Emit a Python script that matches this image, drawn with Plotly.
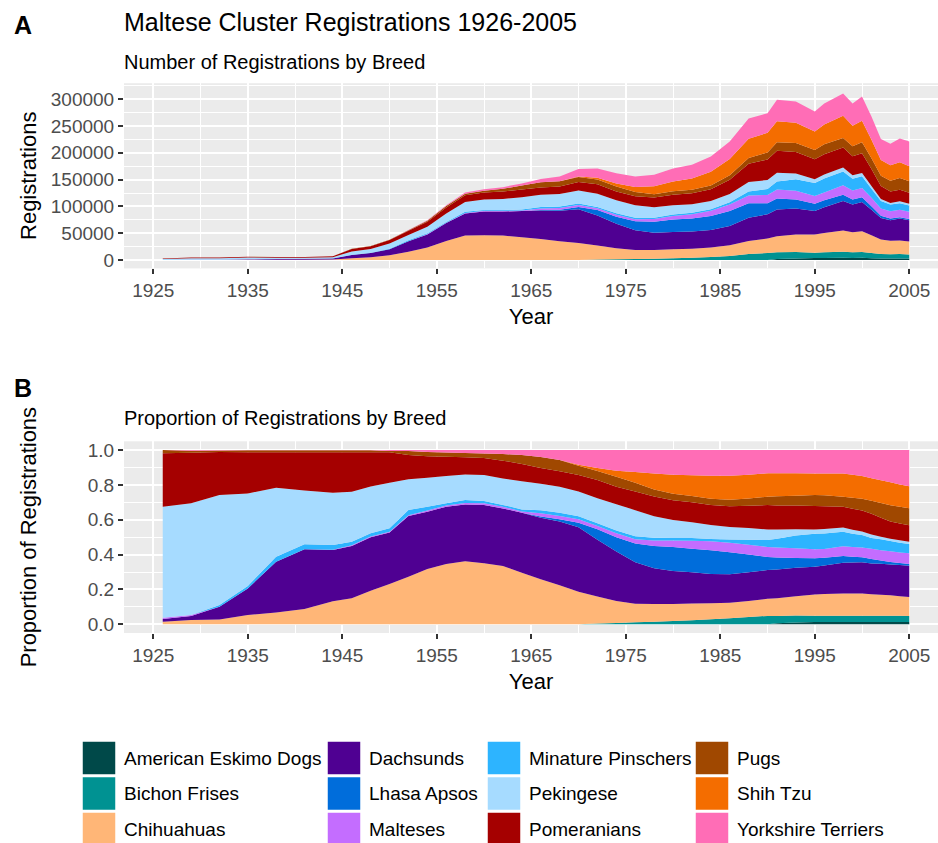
import numpy as np
import plotly.graph_objects as go

# ---------------- data ----------------
years = [1926, 1929, 1932, 1935, 1938, 1941, 1944, 1946, 1948, 1950, 1952, 1954,
         1956, 1958, 1960, 1962, 1964, 1966, 1968, 1970, 1972, 1974, 1976, 1978,
         1980, 1982, 1984, 1986, 1988, 1990, 1991, 1993, 1995, 1996, 1998, 1999,
         2000, 2001, 2002, 2003, 2004, 2005]

# total registrations of the cluster (top of the stacked area, panel A)
total_registrations = [3000, 4500, 4500, 6000, 5500, 5500, 7000, 21000, 26000, 38000, 56000, 74000,
                       102000, 126000, 132000, 136000, 143000, 151000, 156000, 170000, 171000, 162000, 156000, 159000,
                       171000, 178000, 193000, 221000, 264000, 274000, 299000, 296000, 277000, 292000, 311000, 292000,
                       305000, 268000, 226000, 217000, 227000, 221000]

# share of registrations per breed, percent (panel B)
american_eskimo_dogs = [0, 0, 0, 0, 0, 0, 0, 0, 0, 0, 0, 0,
                        0, 0, 0, 0, 0, 0, 0, 0, 0, 0, 0, 0,
                        0, 0, 0, 0, 0, 0, 0.6, 1.0, 1.3, 1.3, 1.3, 1.3,
                        1.3, 1.3, 1.3, 1.3, 1.3, 1.3]
bichon_frises = [0, 0, 0, 0, 0, 0, 0, 0, 0, 0, 0, 0,
                 0, 0, 0, 0, 0, 0, 0, 0, 0.4, 0.8, 1.1, 1.5,
                 1.9, 2.3, 2.9, 3.4, 4.2, 4.8, 4.2, 4.0, 3.6, 3.6, 3.6, 3.6,
                 3.6, 3.6, 3.6, 3.6, 3.6, 3.4]
chihuahuas = [1.5, 2.5, 2.7, 5.3, 6.7, 8.8, 13.2, 14.9, 19.3, 23.1, 27.3, 31.7,
              34.6, 36.1, 35.0, 33.5, 29.6, 25.8, 22.4, 18.7, 15.5, 12.6, 10.7, 10.3,
              9.8, 9.6, 9.2, 9.0, 9.2, 9.8, 10.1, 11.1, 12.2, 12.4, 12.8, 12.8,
              12.8, 12.4, 12.0, 11.7, 11.1, 10.9]
dachsunds = [1.5, 2.3, 7.4, 15.3, 29.2, 34.2, 29.4, 30.0, 30.6, 29.5, 34.8, 32.9,
             32.9, 32.7, 33.5, 33.0, 34.4, 35.4, 36.5, 37.1, 32.5, 28.3, 23.7, 20.7,
             19.1, 18.0, 16.8, 16.3, 16.4, 16.6, 16.6, 16.3, 15.9, 16.4, 17.6, 17.8,
             18.0, 17.8, 17.8, 17.6, 18.0, 18.0]
lhasa_apsos = [0, 0, 0, 0, 0, 0, 0, 0, 0, 0, 0, 0,
               0, 0, 0, 0, 0, 0.6, 1.3, 2.5, 6.1, 8.2, 10.7, 13.0,
               13.8, 13.6, 13.6, 12.6, 10.3, 7.5, 6.9, 5.7, 4.8, 4.4, 3.8, 3.3,
               2.9, 2.5, 1.9, 1.5, 1.1, 1.0]
malteses = [0.8, 0.5, 0, 0, 0, 0, 0.2, 0.5, 0.5, 0.5, 0.5, 0.7,
            0.7, 0.8, 1.0, 1.0, 0.8, 1.9, 1.9, 2.1, 1.9, 2.3, 2.5, 3.1,
            3.8, 4.6, 5.2, 5.5, 5.5, 5.7, 5.7, 5.5, 5.2, 5.0, 5.7, 5.7,
            5.7, 5.9, 5.9, 6.1, 6.1, 6.1]
minature_pinschers = [0, 0, 1.0, 1.4, 2.9, 2.9, 2.7, 2.0, 1.8, 2.0, 3.0, 2.2,
                      1.2, 1.7, 1.2, 1.0, 1.2, 1.7, 1.9, 1.7, 1.5, 1.5, 1.7, 1.7,
                      1.5, 1.5, 1.3, 1.9, 2.9, 4.0, 5.0, 7.3, 8.9, 9.0, 8.2, 7.6,
                      7.1, 6.3, 6.3, 5.9, 5.5, 5.4]
pekingese = [63.7, 64.1, 63.1, 53.1, 39.6, 30.8, 30.0, 28.7, 26.8, 26.1, 17.6, 16.6,
             15.7, 14.7, 15.0, 15.2, 16.1, 15.3, 14.9, 14.2, 14.3, 15.1, 14.9, 12.4,
             10.3, 9.0, 8.0, 7.1, 6.7, 6.1, 5.4, 3.6, 2.5, 2.5, 2.5, 2.2,
             2.0, 2.0, 1.5, 1.3, 1.5, 1.3]
pomeranians = [30.6, 29.1, 24.7, 23.6, 20.3, 22.0, 23.2, 22.6, 19.7, 17.5, 13.9, 12.3,
               11.1, 9.8, 9.7, 10.2, 10.0, 9.0, 8.8, 9.4, 10.5, 10.1, 10.7, 11.5,
               11.5, 11.5, 11.5, 11.9, 12.8, 14.0, 13.8, 13.6, 13.4, 13.0, 11.9, 12.2,
               12.2, 11.9, 10.9, 9.9, 9.6, 9.4]
pugs = [1.9, 1.1, 0.8, 1.1, 1.1, 1.1, 1.1, 1.1, 1.1, 0.7, 2.3, 2.4,
        2.4, 2.5, 2.6, 3.8, 5.1, 6.3, 6.5, 5.4, 5.2, 5.7, 5.0, 4.0,
        3.8, 3.6, 3.6, 3.8, 4.2, 4.8, 5.2, 5.7, 6.3, 6.3, 5.7, 6.3,
        6.7, 7.5, 8.4, 9.2, 9.6, 9.8]
shih_tzu = [0, 0, 0, 0, 0, 0, 0, 0, 0, 0, 0, 0,
            0, 0, 0, 0, 0, 0, 0, 0.6, 1.7, 3.4, 6.1, 9.4,
            10.9, 12.0, 13.2, 13.8, 13.6, 13.4, 13.2, 12.8, 12.4, 12.6, 13.4, 13.2,
            13.2, 13.0, 13.0, 13.2, 12.8, 12.6]
yorkshire_terriers = [0, 0.4, 0.3, 0.2, 0.2, 0.2, 0.2, 0.2, 0.2, 0.6, 0.6, 1.2,
                      1.4, 1.7, 2.0, 2.3, 2.9, 4.0, 5.7, 8.4, 10.3, 11.9, 12.6, 13.6,
                      14.3, 14.5, 14.7, 14.7, 14.2, 13.4, 13.4, 13.4, 13.4, 13.4, 13.4, 14.2,
                      14.9, 16.3, 17.4, 18.5, 19.7, 20.8]

breeds = ["American Eskimo Dogs", "Bichon Frises", "Chihuahuas", "Dachsunds",
          "Lhasa Apsos", "Malteses", "Minature Pinschers", "Pekingese",
          "Pomeranians", "Pugs", "Shih Tzu", "Yorkshire Terriers"]
breed_shares = [american_eskimo_dogs, bichon_frises, chihuahuas, dachsunds,
                lhasa_apsos, malteses, minature_pinschers, pekingese,
                pomeranians, pugs, shih_tzu, yorkshire_terriers]
breed_colors = ["#004949", "#009292", "#FFB677", "#4F0092",
                "#006DDB", "#C46DFF", "#2DB4FF", "#A6DBFF",
                "#A50000", "#A04800", "#F46D00", "#FF6DB6"]

x_tick_labels = [1925, 1935, 1945, 1955, 1965, 1975, 1985, 1995, 2005]
y1_tick_values = [0, 50000, 100000, 150000, 200000, 250000, 300000]
y2_tick_values = [0.0, 0.2, 0.4, 0.6, 0.8, 1.0]

# ---------------- derived series ----------------
share = np.array(breed_shares, dtype=float)
share = share / share.sum(axis=0)                      # proportions per year
counts = share * np.array(total_registrations, float)  # registrations per breed

# ---------------- figure ----------------
W, H = 938, 843
FONT = "Liberation Sans, Arial, Helvetica, sans-serif"


def px_x(x):
    return x / W


def px_y(y):
    return 1 - y / H


fig = go.Figure()
for i, b in enumerate(breeds):
    fig.add_trace(go.Scatter(x=years, y=counts[i], name=b, stackgroup="abs", mode="none",
                             fillcolor=breed_colors[i], showlegend=False,
                             xaxis="x", yaxis="y", hovertemplate=b + ": %{y:.0f}<extra></extra>"))
for i, b in enumerate(breeds):
    fig.add_trace(go.Scatter(x=years, y=share[i], name=b, stackgroup="prop", mode="none",
                             fillcolor=breed_colors[i], showlegend=False,
                             xaxis="x2", yaxis="y2", hovertemplate=b + ": %{y:.3f}<extra></extra>"))

x_left = 124
x_range = [1921.9, 2008.04]
top_dom = [px_y(268.4), px_y(83.2)]
bot_dom = [px_y(633.0), px_y(441.3)]

common_x = dict(
    range=x_range, domain=[px_x(x_left), 1.0],
    tickvals=x_tick_labels, ticktext=[str(v) for v in x_tick_labels],
    ticks="outside", ticklen=5, tickwidth=1.5, tickcolor="#333333",
    tickfont=dict(family=FONT, size=19, color="#4D4D4D"),
    showgrid=True, gridcolor="white", gridwidth=2,
    minor=dict(tickvals=[1930, 1940, 1950, 1960, 1970, 1980, 1990, 2000],
               showgrid=True, gridcolor="white", gridwidth=1, ticks=""),
    zeroline=False, showline=False, fixedrange=True,
    title=dict(text="Year", font=dict(family=FONT, size=22, color="black"), standoff=8),
)
common_y = dict(
    ticks="outside", ticklen=5, tickwidth=1.5, tickcolor="#333333",
    tickfont=dict(family=FONT, size=19, color="#4D4D4D"),
    showgrid=True, gridcolor="white", gridwidth=2,
    zeroline=False, showline=False, fixedrange=True,
)

fig.update_layout(
    width=W, height=H,
    margin=dict(l=0, r=0, t=0, b=0, autoexpand=False),
    paper_bgcolor="white", plot_bgcolor="#EBEBEB",
    font=dict(family=FONT, color="black"),
    showlegend=False,
    xaxis=dict(anchor="y", **common_x),
    xaxis2=dict(anchor="y2", **common_x),
    yaxis=dict(anchor="x", domain=top_dom, range=[-15700, 330000],
               tickvals=y1_tick_values, ticktext=[str(v) for v in y1_tick_values],
               minor=dict(tickvals=[25000, 75000, 125000, 175000, 225000, 275000, 325000],
                          showgrid=True, gridcolor="white", gridwidth=1, ticks=""),
               title=dict(text="Registrations", font=dict(family=FONT, size=22, color="black"), standoff=8),
               **common_y),
    yaxis2=dict(anchor="x2", domain=bot_dom, range=[-0.05, 1.05],
                tickvals=y2_tick_values, ticktext=["%.1f" % v for v in y2_tick_values],
                minor=dict(tickvals=[0.1, 0.3, 0.5, 0.7, 0.9],
                           showgrid=True, gridcolor="white", gridwidth=1, ticks=""),
                title=dict(text="Proportion of Registrations", font=dict(family=FONT, size=22, color="black"), standoff=45),
                **common_y),
)

annotations = [
    dict(text="<b>A</b>", x=px_x(12), y=px_y(25), xanchor="left", yanchor="middle",
         font=dict(family=FONT, size=25, color="black")),
    dict(text="Maltese Cluster Registrations 1926-2005", x=px_x(122), y=px_y(22),
         xanchor="left", yanchor="middle", font=dict(family=FONT, size=25, color="black")),
    dict(text="Number of Registrations by Breed", x=px_x(122), y=px_y(62),
         xanchor="left", yanchor="middle", font=dict(family=FONT, size=20, color="black")),
    dict(text="<b>B</b>", x=px_x(12), y=px_y(388), xanchor="left", yanchor="middle",
         font=dict(family=FONT, size=25, color="black")),
    dict(text="Proportion of Registrations by Breed", x=px_x(122), y=px_y(418),
         xanchor="left", yanchor="middle", font=dict(family=FONT, size=20, color="black")),
]

# legend drawn as keys + labels, 3 rows x 4 columns (column-major order)
shapes = []
col_left = [82, 327, 487, 695]
row_top = [741, 776.5, 812]
key = 34
for i, b in enumerate(breeds):
    c, r = divmod(i, 3)
    x0, y0 = col_left[c], row_top[r]
    shapes.append(dict(type="rect", xref="paper", yref="paper",
                       x0=px_x(x0), x1=px_x(x0 + key), y0=px_y(y0 + key), y1=px_y(y0),
                       fillcolor=breed_colors[i], line=dict(width=1.5, color="white"), layer="above"))
    annotations.append(dict(text=b, x=px_x(x0 + key + 6), y=px_y(y0 + key / 2),
                            xanchor="left", yanchor="middle",
                            font=dict(family=FONT, size=19, color="black")))

for a in annotations:
    a.update(xref="paper", yref="paper", showarrow=False)
fig.update_layout(annotations=annotations, shapes=shapes)

# remove the browser's default 8px page margin so the figure fills the window exactly
fig.write_html("out.html", config={"displayModeBar": False},
               post_script="document.body.style.margin='0px';document.body.style.overflow='hidden';")
